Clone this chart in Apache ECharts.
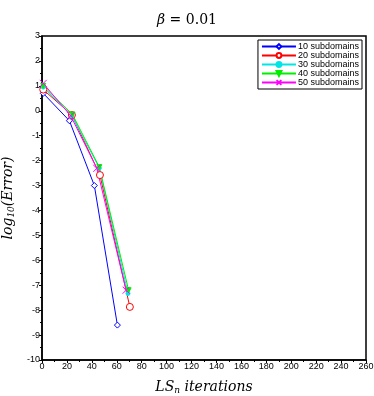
<!DOCTYPE html>
<html>
<head>
<meta charset="utf-8">
<script src="https://cdn.jsdelivr.net/npm/echarts@6/dist/echarts.min.js"></script>
<style>
  html, body { margin: 0; padding: 0; background: #fff; }
  #chart { width: 374px; height: 396px; }
</style>
</head>
<body>
<div id="chart"></div>
<script>
// series data: [LS_n iterations, log10(Error)]
const sub10 = [[1, 0.7], [22, -0.4], [42, -3.0], [60.5, -8.6]]
const sub20 = [[1, 0.85], [24, -0.17], [46.5, -2.58], [70.5, -7.87]]
const sub30 = [[1, 0.95], [24, -0.2], [46, -2.3], [69, -7.33]]
const sub40 = [[1, 1.0], [24.5, -0.15], [46, -2.26], [69.5, -7.2]]
const sub50 = [[1, 1.1], [23, -0.2], [44, -2.31], [67.5, -7.2]]
const seriesNames = ['10 subdomains', '20 subdomains', '30 subdomains', '40 subdomains', '50 subdomains']

const xPath = 'path://M0,0 L10,10 M10,0 L0,10'

let myChart = echarts.init(document.getElementById('chart'))

function line (name, data, color, symbol, size, filled) {
  return {
    name: name,
    type: 'line',
    data: data,
    symbol: symbol,
    symbolSize: size,
    showAllSymbol: true,
    lineStyle: { color: color, width: 1 },
    itemStyle: {
      color: filled ? color : '#fff',
      borderColor: color,
      borderWidth: 1
    },
    emphasis: { disabled: true },
    animation: false
  }
}

myChart.setOption({
  animation: false,
  title: {
    text: '{i|β} = 0.01',
    left: 'center',
    top: 8,
    textStyle: {
      fontFamily: 'DejaVu Serif',
      fontWeight: 'normal',
      fontSize: 14,
      color: '#000',
      rich: {
        i: { fontFamily: 'DejaVu Serif', fontStyle: 'italic', fontSize: 14, color: '#000' }
      }
    }
  },
  legend: {
    data: seriesNames,
    orient: 'vertical',
    right: 12,
    top: 40,
    itemGap: 0,
    itemWidth: 34,
    itemHeight: 6,
    padding: [2, 3, 2, 3],
    borderColor: '#000',
    borderWidth: 1,
    textStyle: { fontFamily: 'Liberation Sans', fontSize: 9, color: '#000', padding: [0, 0, 0, -3] }
  },
  grid: { left: 42, right: 8, top: 36, bottom: 36, outerBoundsMode: 'none', containLabel: false },
  xAxis: {
    type: 'value',
    min: 0,
    max: 260,
    interval: 20,
    name: '{i|LS}{s|n}{i| iterations}',
    nameLocation: 'middle',
    nameGap: 20,
    nameTextStyle: {
      rich: {
        i: { fontFamily: 'DejaVu Serif', fontStyle: 'italic', fontSize: 14, color: '#000' },
        s: { fontFamily: 'DejaVu Serif', fontStyle: 'italic', fontSize: 9, color: '#000', verticalAlign: 'bottom', padding: [6, 0, 0, 0] }
      }
    },
    axisLine: { show: true, onZero: false, lineStyle: { color: '#000', width: 1.5 } },
    axisTick: { inside: false, length: 3, lineStyle: { color: '#000' } },
    minorTick: { show: true, splitNumber: 2, length: 2, lineStyle: { color: '#000' } },
    axisLabel: { fontFamily: 'Liberation Sans', fontSize: 9, color: '#000', margin: 2 },
    splitLine: { show: false }
  },
  yAxis: {
    type: 'value',
    min: -10,
    max: 3,
    interval: 1,
    name: '{i|log}{s|10}{i|(Error)}',
    nameLocation: 'middle',
    nameGap: 16,
    nameTextStyle: {
      rich: {
        i: { fontFamily: 'DejaVu Serif', fontStyle: 'italic', fontSize: 14, color: '#000' },
        s: { fontFamily: 'DejaVu Serif', fontStyle: 'italic', fontSize: 9, color: '#000', padding: [6, 0, 0, 0] }
      }
    },
    axisLine: { show: true, onZero: false, lineStyle: { color: '#000', width: 1.5 } },
    axisTick: { inside: false, length: 3, lineStyle: { color: '#000' } },
    minorTick: { show: true, splitNumber: 2, length: 2, lineStyle: { color: '#000' } },
    axisLabel: { fontFamily: 'Liberation Sans', fontSize: 9, color: '#000', margin: 2 },
    splitLine: { show: false }
  },
  series: [
    line(seriesNames[0], sub10, '#0000ff', 'diamond', 6, false),
    line(seriesNames[1], sub20, '#ff0000', 'circle', 7, false),
    line(seriesNames[2], sub30, '#00e5e5', 'circle', 4, true),
    line(seriesNames[3], sub40, '#00ee00', 'path://M0,0 L10,0 L5,10 Z', 5, true),
    line(seriesNames[4], sub50, '#ff00ff', xPath, 7, false)
  ]
})

// frame around the plot area (top and right edges)
const rect = myChart.getModel().getComponent('grid').coordinateSystem.getRect()
myChart.setOption({
  graphic: [{
    type: 'rect',
    shape: { x: rect.x, y: rect.y, width: rect.width, height: rect.height },
    style: { fill: 'none', stroke: '#000', lineWidth: 1.5 },
    silent: true,
    z: 0
  }]
})
</script>
</body>
</html>
